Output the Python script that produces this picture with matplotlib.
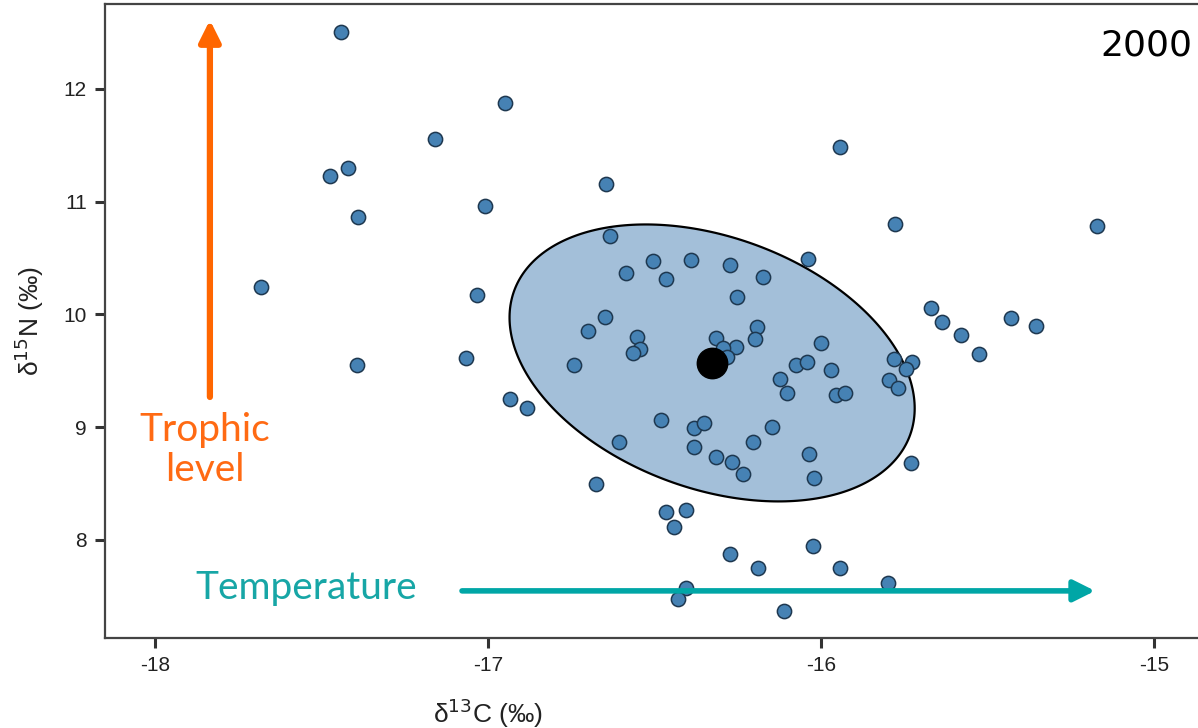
import matplotlib
matplotlib.use('Agg')
import matplotlib.pyplot as plt
import numpy as np

plt.rcParams['axes.unicode_minus'] = False

# d13C / d15N values (per mil)
d13c = [-17.441, -16.949, -17.159, -15.943, -17.474, -17.420, -16.646, -17.390,
        -17.009, -15.778, -15.171, -17.682, -16.039, -17.033, -15.670, -15.637,
        -15.580, -15.526, -15.429, -15.354, -17.066, -17.393, -16.934, -16.883,
        -15.730, -16.676, -16.465, -16.405, -16.441, -16.273, -16.024, -16.189,
        -15.943, -15.799, -16.405, -16.429, -16.111,
        -16.634, -16.586, -16.505, -16.465, -16.390, -16.273, -16.174, -16.252,
        -16.649, -16.700, -16.553, -16.544, -16.565, -16.742, -16.315, -16.192,
        -16.198, -16.255, -16.294, -16.282, -16.000, -16.075, -16.042, -15.970,
        -16.123, -16.102, -15.955, -15.928, -15.781, -15.727, -15.745, -15.796,
        -15.769, -16.480, -16.381, -16.351, -16.381, -16.607, -16.147, -16.204,
        -16.315, -16.267, -16.234, -16.036, -16.021]
d15n = [12.506, 11.876, 11.557, 11.486, 11.228, 11.299, 11.157, 10.865,
        10.962, 10.803, 10.785, 10.244, 10.492, 10.173, 10.058, 9.933,
        9.818, 9.650, 9.969, 9.898, 9.614, 9.552, 9.251, 9.171,
        8.683, 8.497, 8.248, 8.266, 8.115, 7.876, 7.947, 7.752,
        7.752, 7.619, 7.574, 7.477, 7.370,
        10.696, 10.368, 10.475, 10.315, 10.483, 10.439, 10.333, 10.155,
        9.978, 9.854, 9.800, 9.694, 9.659, 9.552, 9.792, 9.889,
        9.783, 9.712, 9.703, 9.623, 9.747, 9.552, 9.579, 9.508,
        9.428, 9.304, 9.286, 9.304, 9.605, 9.579, 9.517, 9.419,
        9.348, 9.064, 8.993, 9.038, 8.825, 8.869, 9.002, 8.869,
        8.736, 8.692, 8.585, 8.763, 8.550]

# centroid and standard-ellipse covariance (estimated from the drawn ellipse)
centroid = (-16.327, 9.570)
cov = [[0.370, -0.245],
       [-0.245, 1.509]]

year_label = "2000"

fig = plt.figure(figsize=(11.98, 7.28), dpi=100)
ax = fig.add_axes([105 / 1198, 1 - 638 / 728, 1 - 105 / 1198, 634 / 728])

# standard ellipse
t = np.linspace(0, 2 * np.pi, 300)
L = np.linalg.cholesky(np.array(cov))
ell = L @ np.vstack([np.cos(t), np.sin(t)])
ax.fill(centroid[0] + ell[0], centroid[1] + ell[1], facecolor='#a3bfd9',
        edgecolor='black', lw=1.6, zorder=1)

ax.scatter(d13c, d15n, s=105, facecolor='#4682b4', edgecolor='#1e3850',
           linewidth=1.1, zorder=3)
ax.scatter([centroid[0]], [centroid[1]], s=480, color='black', zorder=4)

ax.set_xlim(-18.15, -14.868)
ax.set_ylim(7.13, 12.754)
ax.set_xticks([-18, -17, -16, -15])
ax.set_yticks([8, 9, 10, 11, 12])

for side in ['left', 'bottom', 'top']:
    ax.spines[side].set_color('#444444')
    ax.spines[side].set_linewidth(1.6)
ax.spines['right'].set_visible(False)
ax.tick_params(direction='out', length=7, width=2.2, color='#333333',
               labelsize=15, labelcolor='#222222', pad=6)
for lab in ax.get_xticklabels() + ax.get_yticklabels():
    lab.set_family('Liberation Sans')

ax.set_xlabel('δ$^{13}$C (‰)', fontsize=19, family='Liberation Sans',
              color='#222222')
ax.set_ylabel('δ$^{15}$N (‰)', fontsize=19, family='Liberation Sans',
              color='#222222')
ax.xaxis.set_label_coords((488 - 105) / 1093, -0.092)
ax.yaxis.set_label_coords(-0.054, 0.5)

# annotation arrows
ax.annotate('', xy=(-17.835, 12.612), xytext=(-17.835, 9.268),
            arrowprops=dict(arrowstyle='-|>', color='#ff6600', lw=4.5,
                            mutation_scale=32, shrinkA=0, shrinkB=0))
ax.annotate('', xy=(-15.177, 7.548), xytext=(-17.078, 7.548),
            arrowprops=dict(arrowstyle='-|>', color='#00a6a6', lw=4.0,
                            mutation_scale=32, shrinkA=0, shrinkB=0))

ax.text(-17.85, 8.80, 'Trophic\nlevel', color='#ff6a13', fontsize=28,
        family='Lato', ha='center', va='center', linespacing=1.15)
ax.text(-17.545, 7.57, 'Temperature', color='#17a6a6', fontsize=28,
        family='Lato', ha='center', va='center')
ax.text(0.995, 0.935, year_label, transform=ax.transAxes, fontsize=26,
        family='DejaVu Sans', ha='right', va='center', color='black')

fig.savefig('out.png', dpi=100)
